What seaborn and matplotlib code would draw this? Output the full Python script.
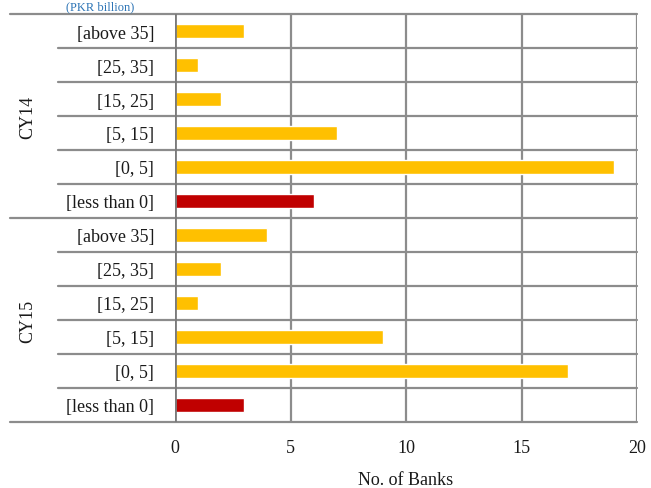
import numpy as np
import pandas as pd
import seaborn as sns
import matplotlib.pyplot as plt
from matplotlib.transforms import blended_transform_factory

# data
buckets = ['[above 35]', '[25, 35]', '[15, 25]', '[5, 15]', '[0, 5]', '[less than 0]']
years = ['CY14', 'CY15']
cy14 = [3, 1, 2, 7, 19, 6]
cy15 = [4, 2, 1, 9, 17, 3]

rows = []
for yr, vals in zip(years, [cy14, cy15]):
    for b, v in zip(buckets, vals):
        rows.append({'row': yr + ' ' + b, 'bucket': b, 'year': yr, 'banks': v,
                     'kind': 'neg' if b == '[less than 0]' else 'pos'})
df = pd.DataFrame(rows)

sns.set_style('white')
plt.rcParams['font.family'] = ['Liberation Serif', 'DejaVu Serif']

fig = plt.figure(figsize=(6.51, 4.89), dpi=100)
ax = fig.add_axes([175 / 651, 1 - 423 / 489, 462 / 651, 408 / 489])

sns.barplot(data=df, x='banks', y='row', hue='kind', orient='h',
            palette={'pos': '#FFC000', 'neg': '#C00000'}, saturation=1,
            dodge=False, width=0.44, legend=False, ax=ax, order=df['row'])

grid = '#8c8c8c'
ax.set_xlim(0, 20)
ax.set_ylim(len(df) - 0.5, -0.5)
ax.set_xticks([0, 5, 10, 15, 20])
ax.set_yticks(range(len(df)))
ax.set_yticklabels(df['bucket'])
ax.tick_params(axis='both', length=0, labelsize=13, colors='#1a1a1a')
ax.tick_params(axis='y', pad=15)
ax.tick_params(axis='x', pad=12)
ax.set_ylabel('')
ax.set_xlabel('No. of Banks', fontsize=13, color='#1a1a1a', labelpad=11)

for s in ax.spines.values():
    s.set_visible(False)
for xv in [5, 10, 15, 20]:
    ax.axvline(xv, color=grid, lw=1.6, zorder=0)
ax.axvline(0, color='#7a7a7a', lw=2, zorder=3)

# category boundaries, extended into the label area like a multi-level axis
tr = blended_transform_factory(ax.transAxes, ax.transData)
n = len(df)
for i in range(n + 1):
    yb = i - 0.5
    x0 = -0.357 if i % 6 == 0 else -0.253
    ax.plot([x0, 1.0], [yb, yb], color=grid, lw=1.6, transform=tr,
            clip_on=False, zorder=1)

for k, yr in enumerate(years):
    ax.text(-0.319, k * 6 + 2.5, yr, transform=tr, rotation=90,
            ha='center', va='center', fontsize=13, color='#1a1a1a')

fig.text(100 / 651, 1 - 1 / 489, '(PKR billion)', ha='center', va='top',
         fontsize=9, color='#2E75B6')

fig.savefig('out.png', dpi=100)
